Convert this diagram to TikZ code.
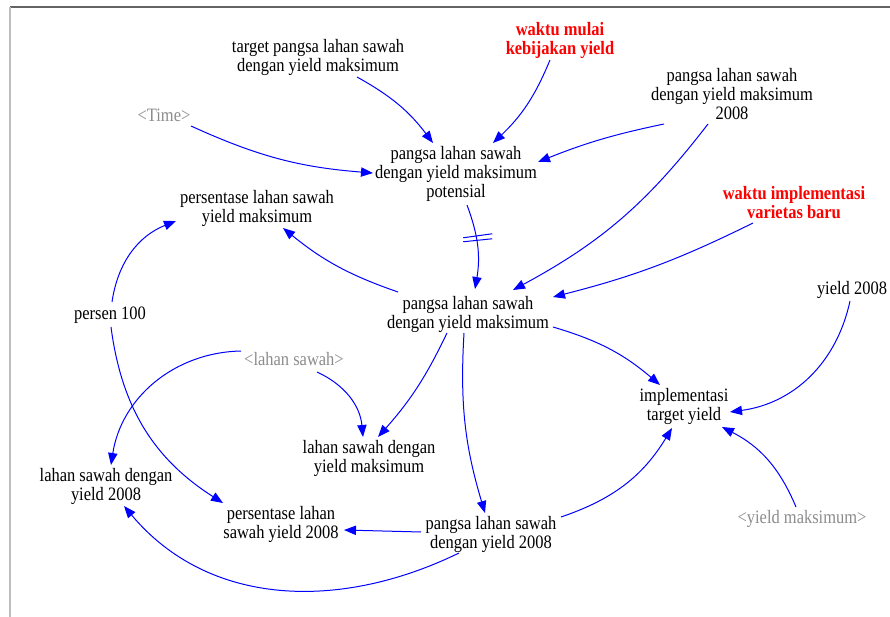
\documentclass[tikz,border=0pt]{standalone}
\usepackage{fontspec}
\setmainfont{Liberation Serif}[FakeStretch=0.87]
\usetikzlibrary{arrows.meta}
\definecolor{linkblue}{RGB}{0,0,255}
\definecolor{shadowgray}{RGB}{140,140,140}
\definecolor{frameedge}{RGB}{100,100,100}
\definecolor{frameside}{RGB}{190,190,190}
\begin{document}
\begin{tikzpicture}[x=0.75pt,y=-0.75pt,
  var/.style={align=center,inner sep=0pt,text=black,font=\rmfamily\fontsize{14.2}{14.25}\selectfont},
  shadow/.style={var,text=shadowgray},
  policy/.style={var,text=red,font=\rmfamily\fontsize{14.2}{14.25}\selectfont\bfseries},
  link/.style={draw=linkblue,line width=0.75pt,-{Triangle[length=9pt,width=7pt]}},
  hash/.style={draw=linkblue,line width=0.75pt}]
\useasboundingbox (0,0) rectangle (890,617);
% window frame
\draw[frameedge,line width=1.2pt] (10,7) -- (890,7);
\draw[frameside,line width=1.5pt] (10,7) -- (10,617);

% variables
\node[var] (tgt) at (318,57) {target pangsa lahan sawah\\dengan yield maksimum};
\node[policy] (wm) at (560,40) {waktu mulai\\kebijakan yield};
\node[shadow] (time) at (164,115) {<Time>};
\node[var] (pot) at (456,174) {pangsa lahan sawah\\dengan yield maksimum\\potensial};
\node[var] (m08) at (732,94) {pangsa lahan sawah\\dengan yield maksimum\\2008};
\node[policy] (wi) at (794,203) {waktu implementasi\\varietas baru};
\node[var] (pmax) at (257,208) {persentase lahan sawah\\yield maksimum};
\node[var] (p100) at (110,315) {persen 100};
\node[var] (main) at (468,314) {pangsa lahan sawah\\dengan yield maksimum};
\node[shadow] (ls) at (294,359) {<lahan sawah>};
\node[var] (y08) at (852,290) {yield 2008};
\node[var] (impl) at (684,406) {implementasi\\target yield};
\node[var] (lsmax) at (369,458) {lahan sawah dengan\\yield maksimum};
\node[var] (ls08) at (106,486) {lahan sawah dengan\\yield 2008};
\node[var] (p08) at (281,524) {persentase lahan\\sawah yield 2008};
\node[var] (pl08) at (491,534) {pangsa lahan sawah\\dengan yield 2008};
\node[shadow] (ymax) at (802,519) {<yield maksimum>};

% causal links
\draw[link] ([shift={(39,20)}]tgt.center) to[bend left=12] ([shift={(-23,-31)}]pot.center);
\draw[link] ([shift={(-10,20)}]wm.center) to[bend left=12] ([shift={(37,-31)}]pot.center);
\draw[link] ([shift={(27,11)}]time.center) to[bend right=10] ([shift={(-83,-1)}]pot.center);
\draw[link] ([shift={(-68,30)}]m08.center) to[bend right=5] ([shift={(82,-12)}]pot.center);
\draw[link] ([shift={(-24,30)}]m08.center) to[bend left=12] ([shift={(45,-24)}]main.center);
\draw[link] ([shift={(-41,20)}]wi.center) to[bend left=6] ([shift={(85,-17)}]main.center);
\draw[link] ([shift={(11,31)}]pot.center) to[bend left=15] coordinate[pos=0.39] (dly) ([shift={(7,-25)}]main.center);
\draw[link] ([shift={(-70,-22)}]main.center) to[bend left=10] ([shift={(26,20)}]pmax.center);
\draw[link] ([shift={(2,-13)}]p100.center) to[bend left=30] ([shift={(-81,13)}]pmax.center);
\draw[link] ([shift={(1,12)}]p100.center) to[bend right=25] ([shift={(-58,-21)}]p08.center);
\draw[link] ([shift={(-53,-8)}]ls.center) to[bend right=40] ([shift={(5,-21)}]ls08.center);
\draw[link] ([shift={(23,13)}]ls.center) to[bend left=30] ([shift={(-6,-21)}]lsmax.center);
\draw[link] ([shift={(-21,19)}]main.center) to[bend left=8] ([shift={(9,-21)}]lsmax.center);
\draw[link] ([shift={(-4,19)}]main.center) to[bend right=10] ([shift={(-6,-21)}]pl08.center);
\draw[link] ([shift={(85,13)}]main.center) to[bend left=12] ([shift={(-24,-21)}]impl.center);
\draw[link] ([shift={(-2,11)}]y08.center) to[bend left=35] ([shift={(46,6)}]impl.center);
\draw[link] ([shift={(70,-17)}]pl08.center) to[bend right=20] ([shift={(-12,22)}]impl.center);
\draw[link] ([shift={(-6,-12)}]ymax.center) to[bend right=20] ([shift={(38,21)}]impl.center);
\draw[link] ([shift={(-70,-2)}]pl08.center) -- ([shift={(63,6)}]p08.center);
\draw[link] ([shift={(-32,19)}]pl08.center) to[out=206,in=-50] ([shift={(18,20)}]ls08.center);

% delay mark
\draw[hash] ([shift={(-13,0)}]dly) -- ([shift={(16,-4)}]dly);
\draw[hash] ([shift={(-13,4)}]dly) -- ([shift={(16,1)}]dly);
\end{tikzpicture}
\end{document}
